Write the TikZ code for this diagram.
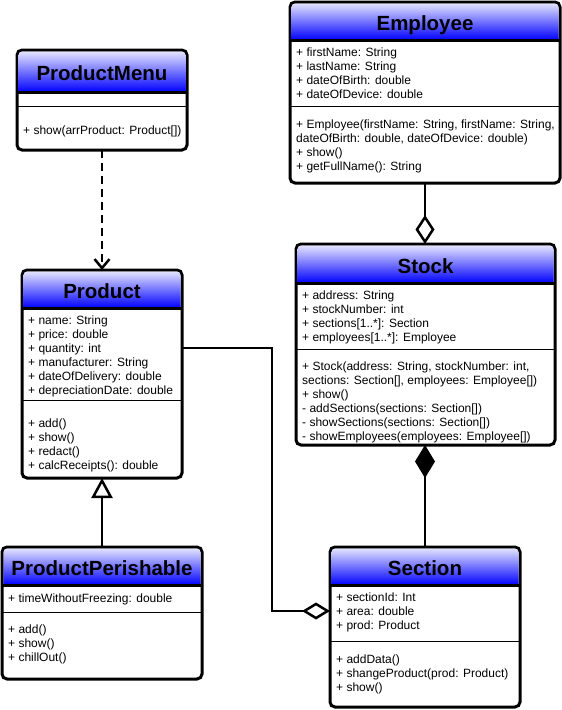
\documentclass[tikz,border=0pt]{standalone}
\usepackage{fontspec}
\setmainfont{Liberation Sans}
\usetikzlibrary{arrows.meta}
\definecolor{hdtop}{RGB}{235,235,255}
\definecolor{hdbot}{RGB}{0,0,255}
\tikzset{
  classbox/.style={rectangle, draw, line width=3pt, rounded corners=5pt, fill=white, inner sep=0pt, outer sep=0pt},
  titletext/.style={anchor=base, inner sep=0pt, font=\fontsize{20.5}{24}\selectfont\bfseries},
  linetext/.style={anchor=base west, inner sep=0pt, font=\fontsize{12}{14}\selectfont},
  hdline/.style={line width=3pt},
  sepline/.style={line width=1pt},
  conn/.style={line width=2.5pt},
}
% #1 name, #2 x1, #3 y1, #4 x2, #5 y2, #6 header bottom, #7 separator, #8 title
\newcommand\umlbox[8]{%
  \node[classbox, minimum width={#4-#2}, minimum height={#5-#3}] (#1) at ({(#2+#4)/2},{(#3+#5)/2}) {};
  \begin{scope}
    \clip[rounded corners=3.5pt] ({#2+1.5},{#3+1.5}) rectangle ({#4-1.5},{#5-1.5});
    \shade[top color=hdtop, bottom color=hdbot] (#2,#3) rectangle (#4,#6);
  \end{scope}
  \draw[hdline] (#2,#6) -- (#4,#6);
  \draw[sepline] (#2,#7) -- (#4,#7);
  \node[titletext] (#1-title) at ({(#2+#4)/2},{(#3+#6)/2+9.5}) {#8};
}
\newcommand\umllines[4]{%
  \foreach \t [count=\i] in {#4} {\node[linetext] (#1-\i) at (#2,{#3+14*(\i-1)}) {\t};}
}
\begin{document}
\begin{tikzpicture}[x=1pt,y=-1pt]
\fill[white] (0,0) rectangle (562,710);
\useasboundingbox (0,0) rectangle (562,710);

% Employee
\umlbox{emp}{290}{2}{560}{183}{40}{106}{Employee}
\umllines{empa}{296}{56}{{+ firstName: String},{+ lastName: String},{+ dateOfBirth: double},{+ dateOfDevice: double}}
\umllines{empm}{296}{128}{{+ Employee(firstName: String, firstName: String,},{dateOfBirth: double, dateOfDevice: double)},{+ show()},{+ getFullName(): String}}

% Stock
\umlbox{stock}{296}{244}{555}{445}{283}{349}{Stock}
\umllines{stocka}{302}{299}{{+ address: String},{+ stockNumber: int},{+ sections[1..*]: Section},{+ employees[1..*]: Employee}}
\umllines{stockm}{302}{370}{{+ Stock(address: String, stockNumber: int,},{sections: Section[], employees: Employee[])},{+ show()},{- addSections(sections: Section[])},{- showSections(sections: Section[])},{- showEmployees(employees: Employee[])}}

% ProductMenu
\umlbox{menu}{17}{50}{187}{150}{92}{106}{ProductMenu}
\umllines{menum}{23}{134}{{+ show(arrProduct: Product[])}}

% Product
\umlbox{prod}{22}{270}{182}{478}{308}{400}{Product}
\umllines{proda}{28}{324}{{+ name: String},{+ price: double},{+ quantity: int},{+ manufacturer: String},{+ dateOfDelivery: double},{+ depreciationDate: double}}
\umllines{prodm}{28}{427}{{+ add()},{+ show()},{+ redact()},{+ calcReceipts(): double}}

% ProductPerishable
\umlbox{pp}{2}{547}{202}{679}{585}{612}{ProductPerishable}
\umllines{ppa}{8}{602}{{+ timeWithoutFreezing: double}}
\umllines{ppm}{8}{633}{{+ add()},{+ show()},{+ chillOut()}}

% Section
\umlbox{sec}{330}{547}{520}{707}{585}{641}{Section}
\umllines{seca}{336}{601}{{+ sectionId: Int},{+ area: double},{+ prod: Product}}
\umllines{secm}{336}{663}{{+ addData()},{+ shangeProduct(prod: Product)},{+ show()}}

% connectors
\coordinate (bend1) at (272,348);
\coordinate (bend2) at (272,611);
\draw[conn, dash pattern=on 8pt off 5pt, -{Straight Barb[length=9pt,width=15pt]}] (menu.south) -- (prod.north);
\draw[conn, -{Triangle[length=20pt,width=21pt,fill=white]}] (pp.north) -- (prod.south);
\draw[conn, {Diamond[length=33pt,width=20pt]}-] (sec.north |- stock.south) -- (sec.north);
\draw[conn, -{Diamond[length=29pt,width=19pt,fill=white]}] (emp.south) -- (emp.south |- stock.north);
\draw[conn, -{Diamond[length=28pt,width=17pt,fill=white]}] (bend1 -| prod.east) -- (bend1) -- (bend2) -- (bend2 -| sec.west);
\end{tikzpicture}
\end{document}
